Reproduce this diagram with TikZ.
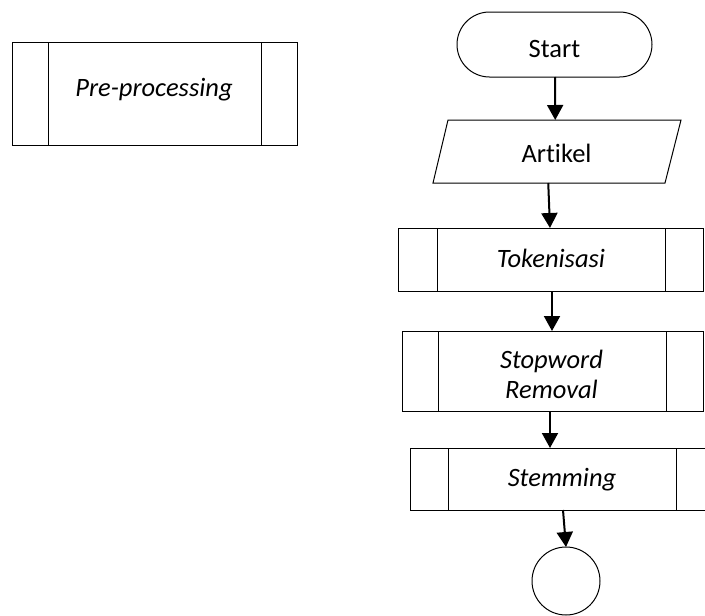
\documentclass[tikz,border=0pt]{standalone}
\usepackage{fontspec}
\setmainfont{Carlito}[Ligatures=NoCommon]
\usetikzlibrary{arrows.meta,calc}

% vertical bars that mark a predefined process box
\newcommand{\procbars}[3]{%
  \draw[boxline] ([xshift=#2]#1.north west) -- ([xshift=#2]#1.south west);
  \draw[boxline] ([xshift=-#3]#1.north east) -- ([xshift=-#3]#1.south east);
}

\tikzset{
  boxline/.style={line width=1pt, draw=black},
  procbox/.style={rectangle, boxline, inner sep=0pt, outer sep=0pt},
  termbox/.style={rectangle, boxline, inner sep=0pt, outer sep=0pt},
  holder/.style={rectangle, draw=none, inner sep=0pt, outer sep=0pt},
  label/.style={anchor=base, inner sep=0pt, font=\fontsize{26.5}{30}\selectfont},
  ilabel/.style={label, font=\fontsize{26.5}{30}\selectfont\itshape},
  flow/.style={line width=2pt, -{Triangle[length=15pt,width=16pt]}},
}

\begin{document}
\begin{tikzpicture}[x=1pt, y=-1pt]
  \useasboundingbox (0,0) rectangle (705,616);
  \clip (0,0) rectangle (705,616);

  % legend: predefined process
  \node[procbox, minimum width=285pt, minimum height=103pt] (pre) at (154.5,93.5) {};
  \procbars{pre}{36pt}{36pt}
  \node[ilabel] (pre-t) at (154,96) {Pre-processing};

  % start terminal
  \node[termbox, rounded corners=32.5pt, minimum width=195pt, minimum height=65pt] (start) at (554.5,44.5) {};
  \node[label] (start-t) at (554.5,57) {Start};

  % input: article
  \node[holder, minimum width=248pt, minimum height=63pt] (art) at (557,151.5) {};
  \draw[boxline] ([xshift=15pt]art.north west) -- (art.north east)
    -- ([xshift=-16pt]art.south east) -- (art.south west) -- cycle;
  \node[label] (art-t) at (556.5,162) {Artikel};

  % tokenisation
  \node[procbox, minimum width=305pt, minimum height=63pt] (tok) at (550.5,259.5) {};
  \procbars{tok}{39pt}{38pt}
  \node[ilabel] (tok-t) at (551,267) {Tokenisasi};

  % stopword removal (two lines; base sits on the last line)
  \node[procbox, minimum width=301pt, minimum height=80pt] (stop) at (552.5,371) {};
  \procbars{stop}{36pt}{37pt}
  \node[ilabel, align=center] (stop-t) at (551.5,398) {Stopword\\Removal};

  % stemming
  \node[procbox, minimum width=304pt, minimum height=62pt] (stem) at (562,479) {};
  \procbars{stem}{38pt}{38pt}
  \node[ilabel] (stem-t) at (562,486) {Stemming};

  % connector
  \node[circle, boxline, inner sep=0pt, outer sep=0pt, minimum size=68pt] (conn) at (566,581) {};

  % flow arrows
  \draw[flow] ([xshift=0.5pt]start.south) -- ([xshift=-1.75pt]art.north);
  \draw[flow] ([xshift=-8.75pt]art.south) -- ([xshift=-0.5pt]tok.north);
  \draw[flow] ([xshift=1.5pt]tok.south) -- ([xshift=-0.5pt]stop.north);
  \draw[flow] ([xshift=-2.5pt]stop.south) -- ([xshift=-12pt]stem.north);
  \draw[flow] ([xshift=1pt]stem.south) -- (conn.north);
\end{tikzpicture}
\end{document}
